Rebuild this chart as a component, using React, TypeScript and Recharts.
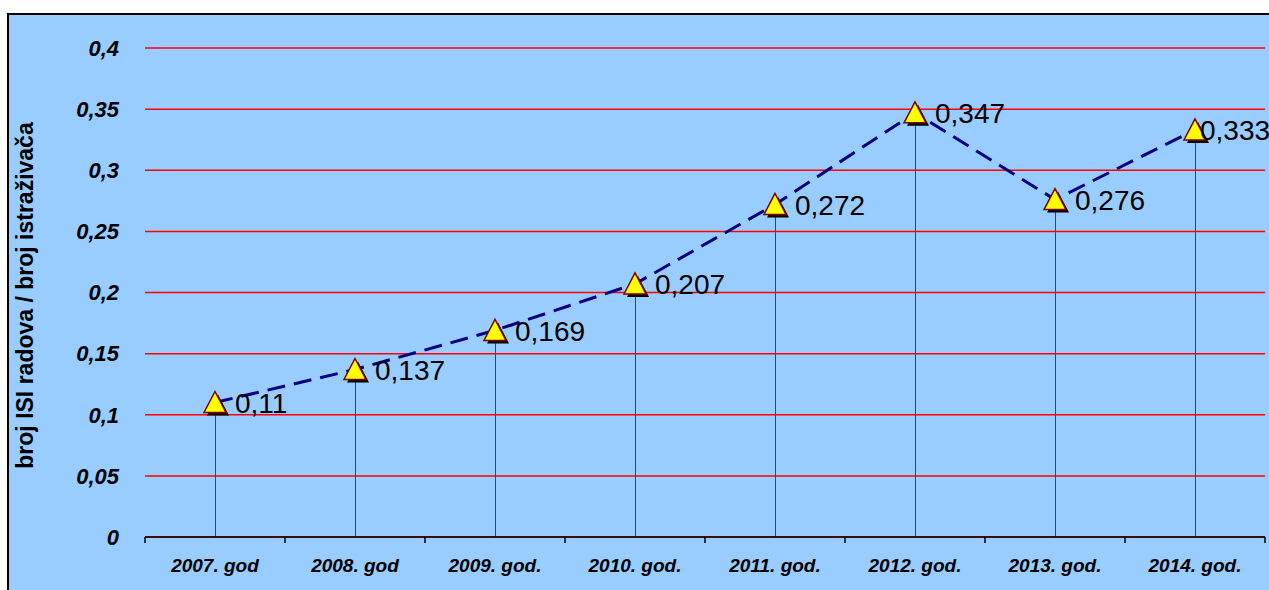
import { ComposedChart, Line, Bar, CartesianGrid, XAxis, YAxis, LabelList } from "recharts";

const years = ["2007. god", "2008. god", "2009. god.", "2010. god.", "2011. god.", "2012. god.", "2013. god.", "2014. god."];
const ratio = [0.11, 0.137, 0.169, 0.207, 0.272, 0.347, 0.276, 0.333];
const yTicks = [0, 0.05, 0.1, 0.15, 0.2, 0.25, 0.3, 0.35, 0.4];
const yTitle = "broj ISI radova / broj istraživača";

const data = years.map((year, i) => ({ year, value: ratio[i] }));

const fmt = (v: number) => String(v).replace(".", ",");

const font = "'Liberation Sans', Arial, sans-serif";

function Triangle(props: any) {
  const { cx, cy } = props;
  if (cx == null || cy == null) return null;
  const pts = (dx: number, dy: number) =>
    `${cx + dx},${cy - 11 + dy} ${cx + 11 + dx},${cy + 10 + dy} ${cx - 11 + dx},${cy + 10 + dy}`;
  return (
    <g>
      <polygon points={pts(3, 3)} fill="#000" />
      <polygon points={pts(0, 0)} fill="#FFFF00" stroke="#800000" strokeWidth={1.5} />
    </g>
  );
}

function ValueLabel(props: any) {
  const { x, y, value, index } = props;
  // the last label gets pushed left so it stays (mostly) inside the frame
  const dx = index === ratio.length - 1 ? 5 : 20;
  return (
    <text x={x + dx} y={y + 1} dominantBaseline="central" fontFamily={font} fontSize={28} fill="#000">
      {fmt(value)}
    </text>
  );
}

// category label plus a small tick mark on the boundary between categories
function YearTick(props: any) {
  const { x, y, payload, index, visibleTicksCount } = props;
  const half = payload?.offset ?? 70;
  const last = index === (visibleTicksCount ?? years.length) - 1;
  return (
    <g>
      <line x1={x - half} x2={x - half} y1={y} y2={y + 6} stroke="#000" strokeWidth={1.5} />
      {last && <line x1={x + half} x2={x + half} y1={y} y2={y + 6} stroke="#000" strokeWidth={1.5} />}
      <text
        x={x}
        y={y + 28}
        textAnchor="middle"
        dominantBaseline="central"
        fontFamily={font}
        fontSize={19}
        fontWeight="bold"
        fontStyle="italic"
        fill="#000"
      >
        {payload.value}
      </text>
    </g>
  );
}

function YTitle(props: any) {
  const vb = props.viewBox;
  const cy = vb.y + vb.height / 2 + 3;
  return (
    <text
      x={16}
      y={cy}
      transform={`rotate(-90, 16, ${cy})`}
      textAnchor="middle"
      dominantBaseline="central"
      fontFamily={font}
      fontWeight="bold"
      fontSize={23}
      fill="#000"
    >
      {yTitle}
    </text>
  );
}

export default function App() {
  return (
    <div style={{ position: "fixed", left: 0, top: 0, width: 1269, height: 590, overflow: "hidden", background: "#fff" }}>
      <div
        style={{
          position: "absolute",
          left: 7,
          top: 13,
          width: 1300,
          height: 600,
          border: "2px solid #000",
          background: "#99CCFF",
        }}
      >
        <ComposedChart width={1300} height={600} data={data} margin={{ top: 33, right: 44, bottom: 38, left: 0 }}>
          <CartesianGrid horizontal vertical={false} stroke="#FF0000" strokeWidth={1.5} />
          <XAxis
            dataKey="year"
            height={40}
            axisLine={{ stroke: "#000", strokeWidth: 1.5 }}
            tickLine={false}
            tickSize={0}
            tickMargin={0}
            interval={0}
            tick={<YearTick />}
          />
          <YAxis
            width={136}
            domain={[0, 0.4]}
            ticks={yTicks}
            axisLine={false}
            tickLine={false}
            tickMargin={20}
            tickFormatter={fmt}
            tick={{ fontFamily: font, fontSize: 22, fontWeight: "bold", fontStyle: "italic", fill: "#000" }}
            label={<YTitle />}
          />
          <Bar dataKey="value" barSize={1} fill="#3333CC" isAnimationActive={false} />
          <Line
            dataKey="value"
            stroke="#000080"
            strokeWidth={3}
            strokeDasharray="18 9"
            dot={<Triangle />}
            activeDot={false}
            isAnimationActive={false}
          >
            <LabelList dataKey="value" content={<ValueLabel />} />
          </Line>
        </ComposedChart>
      </div>
    </div>
  );
}
